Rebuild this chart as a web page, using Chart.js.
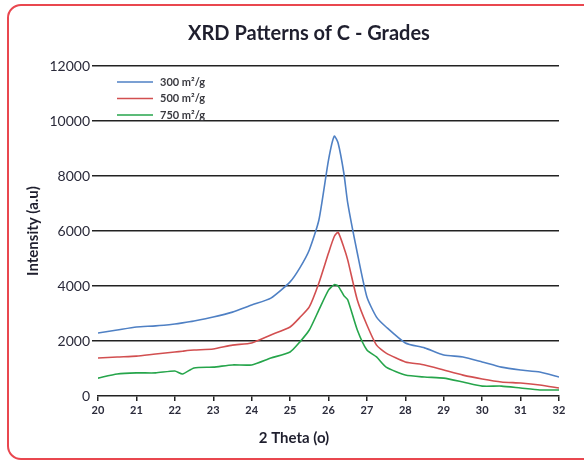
<!DOCTYPE html>
<html>
<head>
<meta charset="utf-8">
<script src="https://cdn.jsdelivr.net/npm/chart.js@4.4.0/dist/chart.umd.min.js"></script>
<style>
  html, body { margin: 0; padding: 0; background: #fff; overflow: hidden; }
  #wrap { position: relative; width: 584px; height: 462px; }
  #frame {
    position: absolute; left: 7px; top: 4px; width: 610px; height: 452px;
    border: 2px solid #e9474f; border-radius: 14px; box-sizing: content-box;
  }
  canvas { position: absolute; left: 0; top: 0; }
</style>
</head>
<body>
<div id="wrap">
  <div id="frame"></div>
  <canvas id="xrdChart" width="584" height="462"></canvas>
</div>
<script>
// --- data ---
const theta = [20, 20.5, 21, 21.5, 22, 22.2, 22.5, 23, 23.5, 24, 24.5, 25, 25.25, 25.5, 25.75,
  26, 26.15, 26.25, 26.4, 26.5, 26.75, 27, 27.25, 27.5, 28, 28.5, 29, 29.5, 30, 30.5, 31, 31.5, 32];
const grade300 = [2290, 2400, 2510, 2550, 2620, 2660, 2730, 2870, 3050, 3310, 3560, 4150, 4650, 5310, 6400,
  8580, 9450, 9200, 8100, 7020, 5200, 3600, 2870, 2510, 1930, 1750, 1490, 1420, 1240, 1050, 945, 870, 690];
const grade500 = [1380, 1420, 1450, 1530, 1600, 1630, 1670, 1710, 1850, 1930, 2220, 2510, 2850, 3240, 4110,
  5200, 5800, 5950, 5400, 4950, 3490, 2580, 1850, 1560, 1240, 1130, 945, 760, 620, 510, 470, 400, 290];
const grade750 = [650, 800, 840, 840, 910, 800, 1020, 1050, 1130, 1130, 1380, 1600, 1960, 2400, 3130,
  3850, 4050, 4000, 3650, 3500, 2400, 1670, 1420, 1050, 760, 690, 650, 510, 360, 360, 290, 220, 220];
const seriesLabels = ['300 m²/g', '500 m²/g', '750 m²/g'];
const yTicks = [0, 2000, 4000, 6000, 8000, 10000, 12000];

const toPoints = (vals) => vals.map((v, i) => ({ x: theta[i], y: v }));

// legend + titles drawn on the canvas
const decorPlugin = {
  id: 'decor',
  afterDraw(chart) {
    const ctx = chart.ctx;
    const area = chart.chartArea;
    ctx.save();
    // main title
    ctx.fillStyle = '#1f1f2e';
    ctx.font = 'bold 20px Lato';
    ctx.textAlign = 'center';
    ctx.textBaseline = 'middle';
    ctx.fillText('XRD Patterns of C - Grades', 309, 34);
    // x title
    ctx.font = 'bold 15px Lato';
    ctx.fillText('2 Theta (o)', 294, 438);
    // legend
    ctx.textAlign = 'left';
    ctx.font = 'bold 11px Lato';
    chart.data.datasets.forEach((ds, i) => {
      const y = area.top + 16 + i * 16.5;
      ctx.strokeStyle = ds.borderColor;
      ctx.lineWidth = 1.5;
      ctx.beginPath();
      ctx.moveTo(area.left + 19, y);
      ctx.lineTo(area.left + 55, y);
      ctx.stroke();
      ctx.fillStyle = '#3a3a40';
      ctx.fillText(ds.label, area.left + 62, y);
    });
    ctx.restore();
  }
};

const xrdCtx = document.getElementById('xrdChart').getContext('2d');
const xrdChart = new Chart(xrdCtx, {
  type: 'line',
  data: {
    datasets: [{
      label: seriesLabels[0],
      data: toPoints(grade300),
      borderColor: '#4f80c4'
    }, {
      label: seriesLabels[1],
      data: toPoints(grade500),
      borderColor: '#d24f50'
    }, {
      label: seriesLabels[2],
      data: toPoints(grade750),
      borderColor: '#26a54b'
    }]
  },
  options: {
    responsive: false,
    animation: false,
    devicePixelRatio: 1,
    elements: {
      line: { borderWidth: 1.6, tension: 0.2, fill: false },
      point: { radius: 0 }
    },
    layout: { padding: { top: 66, right: 25, left: 0, bottom: 0 } },
    plugins: {
      legend: { display: false },
      title: { display: false },
      tooltip: { enabled: false }
    },
    scales: {
      x: {
        type: 'linear',
        min: 20, max: 32,
        ticks: { stepSize: 1, color: '#2a2a3a', font: { family: 'Lato', size: 11, weight: 'bold' }, padding: 3 },
        grid: { drawOnChartArea: false, drawTicks: true, tickLength: 5, color: '#222', lineWidth: 1.5 },
        border: { display: true, color: '#222', width: 1.5 },
        afterFit(scale) { scale.height = 66; }
      },
      y: {
        min: 0, max: 12000,
        afterBuildTicks(scale) { scale.ticks = yTicks.map(v => ({ value: v })); },
        ticks: { color: '#2a2a3a', font: { family: 'Lato', size: 14 }, padding: 2, callback: (v) => String(v) },
        grid: {
          color: (c) => (c.tick && c.tick.value === 0) ? 'rgba(0,0,0,0)' : '#222',
          lineWidth: 1.5, tickLength: 6
        },
        border: { display: false },
        title: {
          display: true, text: 'Intensity (a.u)', color: '#1f1f2e',
          font: { family: 'Lato', size: 15, weight: 'bold' }, padding: { top: 24, bottom: 0 }
        },
        afterFit(scale) { scale.width = 98; }
      }
    }
  },
  plugins: [decorPlugin]
});
</script>
</body>
</html>
